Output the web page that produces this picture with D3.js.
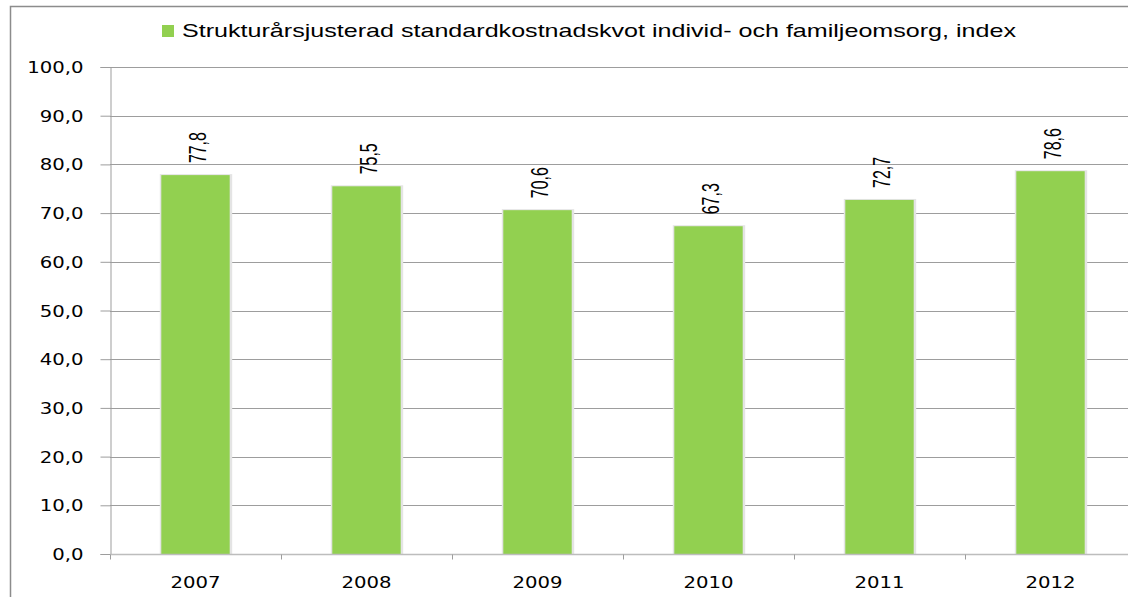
<!DOCTYPE html>
<html>
<head>
<meta charset="utf-8">
<script src="https://cdn.jsdelivr.net/npm/d3@7"></script>
<style>
  body { margin: 0; background: #fff; }
  svg { display: block; }
</style>
</head>
<body>
<svg id="chart" width="1128" height="597"></svg>
<script>
var years = ["2007", "2008", "2009", "2010", "2011", "2012"];
var values = [77.8, 75.5, 70.6, 67.3, 72.7, 78.6];
var yTicks = [0, 10, 20, 30, 40, 50, 60, 70, 80, 90, 100];
var seriesName = "Strukturårsjusterad standardkostnadskvot individ- och familjeomsorg, index";

var stretch = 1.27; // the picture is a bit wider than the fonts we have

var svg = d3.select("#chart");
var plotLeft = 110, plotRight = 1136, plotTop = 67, plotBottom = 554;

var x = d3.scaleBand().domain(years).range([plotLeft, plotRight]).paddingInner(0.6).paddingOuter(0.3);
var xb = d3.scaleBand().domain(years).range([plotLeft, plotRight]);
var y = d3.scaleLinear().domain([0, 100]).range([plotBottom, plotTop]);

function widen(sel) {
    sel.each(function() {
        var w = this.getComputedTextLength();
        d3.select(this).attr("textLength", w * stretch).attr("lengthAdjust", "spacingAndGlyphs");
    });
}

// outer frame
svg.append("path").attr("d", "M10.5,597 V6.5 H1128")
    .attr("fill", "none").attr("stroke", "#8c8c8c").attr("stroke-width", 1.5);

// gridlines
svg.append("g").selectAll("line").data(yTicks.slice(1)).enter().append("line")
    .attr("x1", plotLeft).attr("x2", plotRight)
    .attr("y1", function(d) { return Math.round(y(d)) + 0.5; })
    .attr("y2", function(d) { return Math.round(y(d)) + 0.5; })
    .attr("stroke", "#9d9d9d").attr("stroke-width", 1.2);

// y axis
var yAxis = svg.append("g").attr("transform", "translate(" + (plotLeft + 0.5) + ",0)")
    .call(d3.axisLeft(y).tickValues(yTicks).tickSize(10).tickPadding(17)
        .tickFormat(function(d) { return d3.format(".1f")(d).replace(".", ","); }));
yAxis.select(".domain").attr("stroke", "#9d9d9d");
yAxis.selectAll(".tick line").attr("stroke", "#9d9d9d");
yAxis.selectAll("text").attr("font-family", "DejaVu Sans").attr("font-size", 15.5)
    .attr("fill", "#000").attr("dy", "0.36em").call(widen);

// bars with a soft shadow edge
var bars = svg.append("g");
bars.selectAll("rect.sh").data(values).enter().append("rect")
    .attr("x", function(d, i) { return x(years[i]) - 1.5; })
    .attr("y", function(d) { return y(d) - 1; })
    .attr("width", x.bandwidth() + 4)
    .attr("height", function(d) { return plotBottom - y(d) + 1; })
    .attr("fill", "#e4e4e4");
bars.selectAll("rect.bar").data(values).enter().append("rect")
    .attr("x", function(d, i) { return x(years[i]); })
    .attr("y", function(d) { return y(d); })
    .attr("width", x.bandwidth())
    .attr("height", function(d) { return plotBottom - y(d); })
    .attr("fill", "#92d050");

// x axis
var xAxis = svg.append("g").attr("transform", "translate(0," + (plotBottom + 0.5) + ")");
xAxis.append("line").attr("x1", plotLeft).attr("x2", plotRight).attr("stroke", "#bdbdbd").attr("stroke-width", 1.5);
xAxis.selectAll("line.t").data(years.slice(1)).enter().append("line")
    .attr("x1", function(d) { return xb(d) + 0.5; }).attr("x2", function(d) { return xb(d) + 0.5; })
    .attr("y1", 0).attr("y2", 5).attr("stroke", "#9d9d9d");
xAxis.append("line").attr("x1", plotLeft + 0.5).attr("x2", plotLeft + 0.5).attr("y1", 0).attr("y2", 5).attr("stroke", "#9d9d9d");
xAxis.selectAll("text").data(years).enter().append("text")
    .attr("x", function(d) { return xb(d) + xb.bandwidth() / 2; })
    .attr("y", 33)
    .attr("text-anchor", "middle")
    .attr("font-family", "DejaVu Sans").attr("font-size", 15.5).attr("fill", "#000")
    .text(function(d) { return d; })
    .call(widen);

// value labels
svg.append("g").selectAll("text").data(values).enter().append("text")
    .attr("transform", function(d, i) {
        return "translate(" + (x(years[i]) + x.bandwidth() / 2 + 10) + "," + (y(d) - 12) + ") rotate(-90)";
    })
    .attr("font-family", "Liberation Sans Narrow, Liberation Sans, sans-serif")
    .attr("font-size", 24).attr("fill", "#000")
    .text(function(d) { return d3.format(".1f")(d).replace(".", ","); })
    .attr("textLength", 31).attr("lengthAdjust", "spacingAndGlyphs");

// legend
var legend = svg.append("g");
legend.append("rect").attr("x", 162).attr("y", 25).attr("width", 12).attr("height", 12).attr("fill", "#92d050");
legend.append("text").attr("x", 182).attr("y", 37)
    .attr("font-family", "Liberation Sans Narrow, Liberation Sans, sans-serif").attr("font-size", 19).attr("fill", "#000")
    .text(seriesName)
    .attr("textLength", 834).attr("lengthAdjust", "spacingAndGlyphs");
</script>
</body>
</html>
